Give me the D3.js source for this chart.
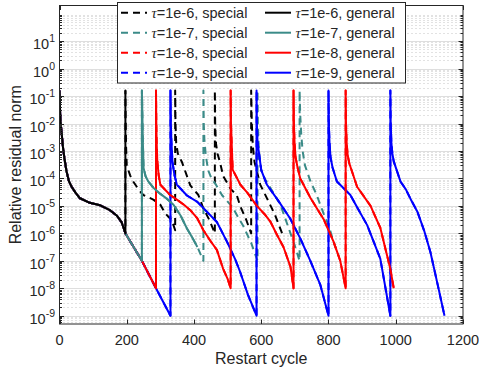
<!DOCTYPE html>
<html>
<head>
<meta charset="utf-8">
<script src="https://cdn.jsdelivr.net/npm/d3@7"></script>
<style>
  body { margin: 0; background: #fff; }
  text { font-family: "Liberation Sans", Arial, Helvetica, sans-serif; fill: #262626; }
</style>
</head>
<body>
<svg id="chart" width="479" height="375"></svg>
<script>
// first solve, shared by every curve (restart cycle, residual)
const firstSolve = [[0,0.16],[1,0.05],[3,0.012],[6,5e-3],[10,1.5e-3],[15,5e-4],[21,1.8e-4],[28,8e-5],[36,5e-5],[48,3e-5],
  [61,1.9e-5],[90,1.3e-5],[121,1.05e-5],[150,7e-6],[170,4.5e-6],[185,2.5e-6],[196,1e-6]];
const sharedDescent = [[245,1e-7],[287,1e-8],[330,1e-9]];

const blackGeneralRuns = [[[196,0.16]]];
const blackSpecialRuns = [
  [[196,0.16],[197,1e-2],[198,1.5e-3],[200,3e-4],[210,1.3e-4],[219,7.8e-5],[235,4e-5],[249,2.5e-5],[279,1.7e-5],[300,1.1e-5],[314,5.4e-6],[334,3e-6],[344,1.3e-6]],
  [[344,0.16],[345,1e-2],[347,2e-3],[352,8e-4],[364,4e-4],[389,5.6e-5],[413,2.5e-5],[428,8e-6],[445,3.2e-6],[462,1e-6]],
  [[462,0.16],[463,1e-2],[465,2e-3],[470,8e-4],[478,3.6e-4],[487,1.2e-4],[510,4e-5],[527,2.5e-5],[538,9.5e-6],[555,3.2e-6],[570,1e-6]],
  [[570,0.16],[572,1e-2],[575,1.5e-3],[580,4e-4],[597,6e-5],[620,1.6e-5],[640,5e-6],[662,1e-6]]
];

const tealGeneralRuns = [
  [[245,0.16],[247,1e-2],[248,2e-3],[250,2.4e-4],[256,1.2e-4],[264,7.8e-5],[280,4.5e-5],[299,2.8e-5],[320,1.8e-5],[339,1.1e-5],[360,4.5e-6],[379,1.5e-6],[395,7e-7],[410,3.2e-7]]
];
const tealSpecialRuns = [
  [[245,0.16],[247,1e-2],[248,2e-3],[250,2.4e-4],[256,1.2e-4],[264,7.8e-5],[280,4.5e-5],[299,2.8e-5],[320,1.8e-5],[339,1.1e-5],[360,4.5e-6],[379,1.5e-6],[395,7e-7],[410,3.2e-7],[419,1.8e-7],[428,1e-7]],
  [[428,0.16],[429,1e-2],[431,2.5e-3],[435,7e-4],[442,2e-4],[452,1e-4],[465,6e-5],[483,2.5e-5],[513,9.5e-6],[547,1.8e-6],[570,4.5e-7],[589,1e-7]],
  [[589,0.16],[590,1e-2],[592,2e-3],[595,5e-4],[600,2e-4],[610,1e-4],[630,4e-5],[657,1.1e-5],[687,1e-6],[700,3.5e-7],[714,1e-7]],
  [[714,0.16],[716,2e-2],[719,4e-3],[723,1e-3],[730,3e-4],[746,8e-5],[765,2.5e-5],[786,5e-6],[800,2e-6],[815,5e-7],[830,1.5e-7]]
];

const redGeneralRuns = [
  [[287,0.16],[288,1e-2],[289,2e-3],[291,4e-4],[295,1.3e-4],[300,5.9e-5],[329,2.5e-5],[349,1.7e-5],[370,1.1e-5],[389,7e-6],[410,3.5e-6],[428,1.3e-6],[448,5.5e-7],[468,2.5e-7],[487,5e-8],[500,2.2e-8],[509,1e-8]],
  [[509,0.16],[510,1e-2],[512,2e-3],[515,2.1e-4],[538,5.9e-5],[559,3e-5],[587,1e-5],[610,5e-6],[627,2.7e-6],[647,8.7e-7],[666,3.2e-7],[687,6e-8],[696,1e-8]],
  [[696,0.16],[697,1e-2],[699,2e-3],[702,6e-4],[708,2.5e-4],[716,1e-4],[746,2e-5],[786,3.2e-6],[815,5e-7],[835,1e-7],[851,1e-8]],
  [[851,0.16],[852,1e-2],[854,2e-3],[857,7e-4],[862,3.5e-4],[885,5e-5],[925,1e-5],[954,1.6e-6],[974,1.6e-7],[984,5e-8],[994,1e-8]]
];
const redSpecialRuns = redGeneralRuns;

const blueGeneralRuns = [
  [[330,0.16],[331,1e-2],[333,2e-3],[336,4e-4],[342,1.3e-4],[349,6e-5],[379,2.4e-5],[410,1.4e-5],[428,8.3e-6],[468,2.6e-6],[498,5e-7],[523,1.1e-7],[537,4e-8],[560,6e-9],[586,1e-9]],
  [[586,0.16],[587,1e-2],[589,2e-3],[592,1.1e-3],[600,2e-4],[617,5.9e-5],[650,1.6e-5],[686,3.5e-6],[716,6.6e-7],[746,1e-7],[776,1.3e-8],[800,1e-9]],
  [[800,0.16],[801,1e-2],[803,2e-3],[806,6e-4],[812,2.5e-4],[825,7.8e-5],[865,2.5e-5],[890,7e-6],[915,2e-6],[954,1.2e-7],[984,1e-9]],
  [[984,0.16],[985,1e-2],[987,2e-3],[990,8e-4],[994,4.2e-4],[1014,7.8e-5],[1030,4e-5],[1044,1.8e-5],[1064,6.3e-6],[1085,1.2e-6],[1103,2.1e-7],[1125,1.3e-8],[1145,1e-9]]
];
const blueSpecialRuns = blueGeneralRuns;

const tolLabels = ["1e-6", "1e-7", "1e-8", "1e-9"];
const colors = ["#000000", "#3b8b88", "#ff0000", "#0000ff"];
const xTicks = [0, 200, 400, 600, 800, 1000, 1200];
const yExponents = [-9, -8, -7, -6, -5, -4, -3, -2, -1, 0, 1];

const series = [
  { tol: 0, kind: "special", pts: [...firstSolve, ...blackSpecialRuns.flat()] },
  { tol: 1, kind: "special", pts: [...firstSolve, ...sharedDescent.slice(0, 1), ...tealSpecialRuns.flat()] },
  { tol: 2, kind: "special", pts: [...firstSolve, ...sharedDescent.slice(0, 2), ...redSpecialRuns.flat()] },
  { tol: 3, kind: "special", pts: [...firstSolve, ...sharedDescent, ...blueSpecialRuns.flat()] },
  { tol: 0, kind: "general", pts: [...firstSolve, ...blackGeneralRuns.flat()] },
  { tol: 1, kind: "general", pts: [...firstSolve, ...sharedDescent.slice(0, 1), ...tealGeneralRuns.flat()] },
  { tol: 2, kind: "general", pts: [...firstSolve, ...sharedDescent.slice(0, 2), ...redGeneralRuns.flat()] },
  { tol: 3, kind: "general", pts: [...firstSolve, ...sharedDescent, ...blueGeneralRuns.flat()] }
];

const plotLeft = 59.5, plotRight = 463, plotTop = 5.5, plotBottom = 324;
const svg = d3.select("#chart");

const x = d3.scaleLinear().domain([0, 1200]).range([plotLeft, plotRight]);
const y = d3.scaleLog().domain([5e-10, 200]).range([plotBottom, plotTop]);

// minor grid (dotted) and major grid
const minorVals = [];
for (let k = -10; k <= 2; k++) {
  for (let j = 2; j <= 9; j++) {
    const v = j * Math.pow(10, k);
    if (v > 5e-10 && v < 200) minorVals.push(v);
  }
}
const majorVals = yExponents.map(e => Math.pow(10, e));

svg.append("g").selectAll("line").data(minorVals).enter().append("line")
  .attr("x1", plotLeft).attr("x2", plotRight)
  .attr("y1", d => Math.round(y(d)) + 0.5).attr("y2", d => Math.round(y(d)) + 0.5)
  .attr("stroke", "#c4c4c4").attr("stroke-width", 1).attr("stroke-dasharray", "1,3");

svg.append("g").selectAll("line").data(majorVals).enter().append("line")
  .attr("x1", plotLeft).attr("x2", plotRight)
  .attr("y1", d => Math.round(y(d)) + 0.5).attr("y2", d => Math.round(y(d)) + 0.5)
  .attr("stroke", "#dedede").attr("stroke-width", 1);

// curves
svg.append("clipPath").attr("id", "plotclip").append("rect")
  .attr("x", plotLeft).attr("y", plotTop).attr("width", plotRight - plotLeft).attr("height", plotBottom - plotTop);

const line = d3.line().x(d => x(d[0])).y(d => y(d[1]));
const drawOrder = [0, 1, 2, 3, 7, 6, 5, 4];
svg.append("g").attr("clip-path", "url(#plotclip)")
  .selectAll("path").data(drawOrder.map(i => series[i])).enter().append("path")
  .attr("d", d => line(d.pts))
  .attr("fill", "none")
  .attr("stroke", d => colors[d.tol])
  .attr("stroke-width", 2)
  .attr("stroke-linejoin", "round")
  .attr("stroke-dasharray", d => d.kind === "special" ? "7,5" : null);

// axes box and ticks
const axisColor = "#262626";
svg.append("rect").attr("x", plotLeft).attr("y", plotTop).attr("width", plotRight - plotLeft).attr("height", plotBottom - plotTop)
  .attr("fill", "none").attr("stroke", axisColor).attr("stroke-width", 1);

const ticks = svg.append("g").attr("stroke", axisColor).attr("stroke-width", 1);
xTicks.forEach(t => {
  const px = Math.round(x(t)) + 0.5;
  ticks.append("line").attr("x1", px).attr("x2", px).attr("y1", plotBottom).attr("y2", plotBottom - 4.5);
  ticks.append("line").attr("x1", px).attr("x2", px).attr("y1", plotTop).attr("y2", plotTop + 4.5);
});
majorVals.forEach(v => {
  const py = Math.round(y(v)) + 0.5;
  ticks.append("line").attr("x1", plotLeft).attr("x2", plotLeft + 4.5).attr("y1", py).attr("y2", py);
  ticks.append("line").attr("x1", plotRight).attr("x2", plotRight - 4.5).attr("y1", py).attr("y2", py);
});
minorVals.forEach(v => {
  const py = Math.round(y(v)) + 0.5;
  ticks.append("line").attr("x1", plotLeft).attr("x2", plotLeft + 2.5).attr("y1", py).attr("y2", py);
  ticks.append("line").attr("x1", plotRight).attr("x2", plotRight - 2.5).attr("y1", py).attr("y2", py);
});

// tick labels
svg.append("g").selectAll("text").data(xTicks).enter().append("text")
  .attr("x", d => x(d)).attr("y", 345)
  .attr("text-anchor", "middle").style("font-size", "14.5px")
  .text(d => d);

const yl = svg.append("g").selectAll("text").data(yExponents).enter().append("text")
  .attr("x", 55).attr("y", d => y(Math.pow(10, d)) + 8)
  .attr("text-anchor", "end").style("font-size", "14.5px");
yl.append("tspan").text("10");
yl.append("tspan").attr("dy", -7).style("font-size", "10.5px").text(d => String(d));

// axis labels
svg.append("text").attr("x", (plotLeft + plotRight) / 2).attr("y", 364)
  .attr("text-anchor", "middle").style("font-size", "16px").text("Restart cycle");
svg.append("text").attr("transform", "translate(20.5," + ((plotTop + plotBottom) / 2) + ") rotate(-90)")
  .attr("text-anchor", "middle").style("font-size", "16px").text("Relative residual norm");

// legend
const legend = svg.append("g");
legend.append("rect").attr("x", 117.5).attr("y", 2.5).attr("width", 288).attr("height", 80.5)
  .attr("fill", "#fff").attr("stroke", axisColor).attr("stroke-width", 1);
series.forEach(s => {
  const col = s.kind === "special" ? 0 : 1;
  const ly = 12.7 + 20 * s.tol;
  const lx0 = col === 0 ? 121 : 265;
  const tx = col === 0 ? 151.5 : 295.5;
  legend.append("line").attr("x1", lx0).attr("x2", lx0 + 26).attr("y1", ly).attr("y2", ly)
    .attr("stroke", colors[s.tol]).attr("stroke-width", 2)
    .attr("stroke-dasharray", s.kind === "special" ? "7,5" : null);
  const t = legend.append("text").attr("x", tx).attr("y", ly + 5).style("font-size", "14.5px");
  t.append("tspan").style("font-family", "'Liberation Serif', 'DejaVu Serif', serif").style("font-style", "italic").text("τ");
  t.append("tspan").text("=" + tolLabels[s.tol] + ", " + s.kind);
});
</script>
</body>
</html>
